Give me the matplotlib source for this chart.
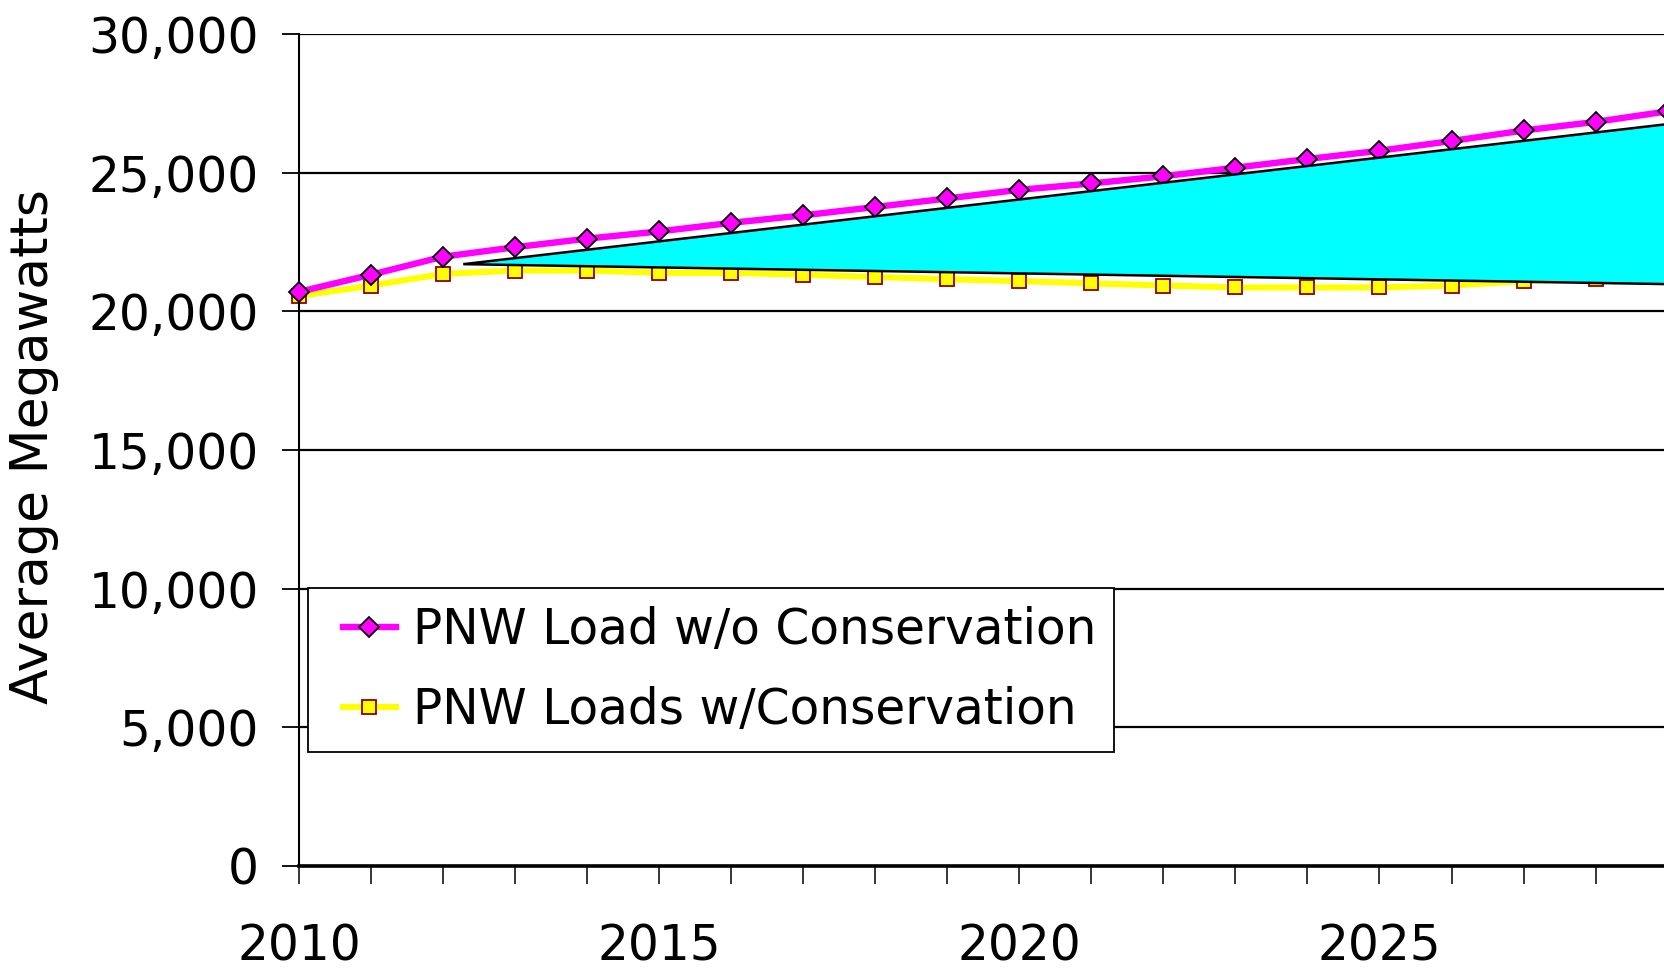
import matplotlib
matplotlib.use("Agg")
import matplotlib.pyplot as plt
from matplotlib.legend_handler import HandlerLine2D

# PNW loads, average megawatts
years = list(range(2010, 2030))
load_no_cons = [20700, 21320, 21970, 22310, 22620, 22880, 23190, 23460, 23760, 24070,
                24380, 24610, 24870, 25180, 25490, 25790, 26140, 26520, 26830, 27210]
load_cons = [20550, 20930, 21350, 21470, 21470, 21390, 21390, 21320, 21240, 21160,
             21090, 21010, 20930, 20860, 20860, 20860, 20930, 21090, 21160, 21230]

# savings wedge
wedge_x = [2012.28, 2029, 2029]
wedge_y = [21700, 26750, 20980]

yticks = [0, 5000, 10000, 15000, 20000, 25000, 30000]
xticklabels = {2010: "2010", 2015: "2015", 2020: "2020", 2025: "2025"}

plt.rcParams['font.family'] = ['DejaVu Sans']
fs = 35

fig = plt.figure(figsize=(16.64, 9.68), dpi=100)
ax = fig.add_axes([0.1797, 0.1054, 0.8203, 0.8595])

ax.plot(years, load_no_cons, color='#ff00ff', lw=4.6, marker='D', ms=10.5,
        mfc='#ff00ff', mec='black', mew=1.3, clip_on=False, zorder=3,
        label='PNW Load w/o Conservation')
ax.plot(years, load_cons, color='#ffff00', lw=4.4, marker='s', ms=10.5,
        mfc='#ffff00', mec='#8b0000', mew=1.3, clip_on=False, zorder=2,
        label='PNW Loads w/Conservation')
ax.fill(wedge_x, wedge_y, facecolor='#00ffff', edgecolor='black', lw=1.8, zorder=4)

ax.set_xlim(2010, 2028.95)
ax.set_ylim(0, 30000)
ax.set_yticks(yticks)
ax.set_yticklabels([f"{v:,}" for v in yticks])
ax.set_xticks(years[:-1])
ax.set_xticklabels([xticklabels.get(y, "") for y in years[:-1]])

ax.yaxis.grid(True, color='black', lw=1.6)
ax.set_axisbelow(True)
for s in ['top', 'right']:
    ax.spines[s].set_visible(False)
ax.spines['left'].set_linewidth(1.5)
ax.spines['bottom'].set_linewidth(2.6)
ax.tick_params(axis='y', direction='out', length=12, width=1.3, pad=17, labelsize=fs)
ax.tick_params(axis='x', direction='out', length=13, width=1.1, pad=28, labelsize=fs)

ax.set_ylabel("Average Megawatts", fontsize=37.5)
ax.yaxis.set_label_coords(-0.176, 0.5036)

leg = ax.legend(loc='lower left', bbox_to_anchor=(0.0066, 0.1372), borderaxespad=0,
                fontsize=fs, frameon=True, fancybox=False, shadow=False,
                numpoints=1, handlelength=1.43, handletextpad=0.36,
                borderpad=0.37, labelspacing=0.66,
                handler_map={plt.Line2D: HandlerLine2D(xpad=0.34)})
leg.get_frame().set_edgecolor('black')
leg.get_frame().set_linewidth(1.3)
leg.get_frame().set_alpha(1)
leg.set_zorder(10)

fig.savefig("out.png", dpi=100)
